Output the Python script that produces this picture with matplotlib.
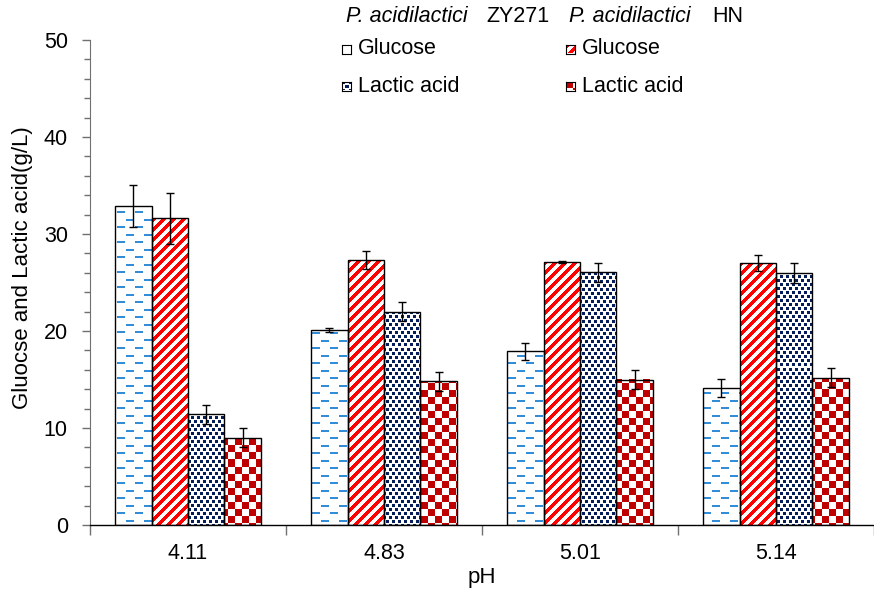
import numpy as np
import matplotlib
matplotlib.use("Agg")
import matplotlib.pyplot as plt

plt.rcParams['font.family'] = ['Liberation Sans', 'DejaVu Sans']

# ---- data ----
ph_labels = ["4.11", "4.83", "5.01", "5.14"]
zy_glucose = [32.9, 20.1, 17.9, 14.1]
zy_glucose_err = [2.2, 0.2, 0.9, 0.95]
hn_glucose = [31.6, 27.3, 27.1, 27.0]
hn_glucose_err = [2.6, 0.9, 0.1, 0.8]
zy_lactic = [11.4, 22.0, 26.05, 26.0]
zy_lactic_err = [1.0, 1.0, 1.0, 1.0]
hn_lactic = [9.0, 14.8, 15.0, 15.2]
hn_lactic_err = [1.0, 1.0, 1.0, 1.0]

W_PX, H_PX = 874, 590
fig = plt.figure(figsize=(W_PX / 100, H_PX / 100), dpi=100, facecolor='white')

# axes placed in pixel terms
ax_left, ax_right, ax_top, ax_bottom = 90, 874, 40, 525
ax = fig.add_axes([ax_left / W_PX, 1 - ax_bottom / H_PX,
                   (ax_right - ax_left) / W_PX, (ax_bottom - ax_top) / H_PX])
AX_W = ax_right - ax_left
AX_H = ax_bottom - ax_top
unit_px = 198.5
xlim = (-0.5, -0.5 + AX_W / unit_px)
ylim = (0, 50)

BLUE = np.array([0.20, 0.55, 0.84])
RED = np.array([1.0, 0.0, 0.0])
NAVY = np.array([0.02, 0.12, 0.36])
DARKRED = np.array([0.75, 0.0, 0.0])


def texture(kind, h, w):
    yy, xx = np.mgrid[0:h, 0:w]
    img = np.ones((h, w, 3))
    if kind == 'dash':
        r = yy % 15
        on = ((r < 2) & (xx % 18 < 8)) | ((r >= 7) & (r < 9) & ((xx + 9) % 18 < 8))
        col = BLUE
    elif kind == 'stripe':
        on = (xx + yy) % 10 < 5
        col = RED
    elif kind == 'dots':
        on = ((yy % 8 < 3) & (xx % 6 < 3)) | (((yy + 4) % 8 < 3) & ((xx + 3) % 6 < 3))
        col = NAVY
    else:
        on = ((xx // 7) + (yy // 7)) % 2 == 0
        col = DARKRED
    img[on] = col
    return img


series = [
    (zy_glucose, zy_glucose_err, 'dash'),
    (hn_glucose, hn_glucose_err, 'stripe'),
    (zy_lactic, zy_lactic_err, 'dots'),
    (hn_lactic, hn_lactic_err, 'check'),
]

x = np.arange(len(ph_labels))
bw = 0.186
for i, (vals, errs, kind) in enumerate(series):
    pos = x + (i - 1.5) * bw
    tex = texture(kind, AX_H, AX_W)
    bars = ax.bar(pos, vals, width=bw, facecolor='none', edgecolor='black',
                  linewidth=1.0, zorder=3)
    for b in bars:
        im = ax.imshow(tex, extent=(xlim[0], xlim[1], ylim[0], ylim[1]),
                       aspect='auto', interpolation='nearest', zorder=2)
        im.set_clip_path(b)
    ax.errorbar(pos, vals, yerr=errs, fmt='none', ecolor='black',
                elinewidth=1.0, capsize=3.2, capthick=1.0, zorder=4)

ax.set_xlim(*xlim)
ax.set_ylim(*ylim)

for s in ['top', 'right']:
    ax.spines[s].set_visible(False)
ax.spines['left'].set_color('#707070')
ax.spines['bottom'].set_color('black')
ax.spines['bottom'].set_linewidth(1.0)

ax.set_yticks(np.arange(0, 51, 10))
ax.set_yticks(np.arange(0, 51, 2), minor=True)
ax.tick_params(axis='y', which='major', direction='out', length=6, width=1,
               color='#707070', labelsize=15.5, pad=10)
ax.tick_params(axis='y', which='minor', direction='out', length=4, width=1,
               color='#707070')

ax.set_xticks(np.arange(-0.5, 3.6, 1.0))
ax.set_xticklabels([])
ax.set_xticks(x, minor=True)
ax.set_xticklabels(ph_labels, minor=True)
ax.tick_params(axis='x', which='major', direction='out', length=7, width=1,
               color='#707070')
ax.tick_params(axis='x', which='minor', length=0, labelsize=15.5, pad=13)

ax.set_ylabel("Gluocse and Lactic acid(g/L)", fontsize=16)
ax.yaxis.set_label_coords(-(ax_left - 33) / AX_W, (ax_bottom - 268) / AX_H)
ax.set_xlabel("pH", fontsize=16, labelpad=2)


# ---- legend (manual, two columns with strain headers) ----
def fx(px):
    return px / W_PX


def fy(py):
    return 1 - py / H_PX


fig.text(fx(346), fy(17), "P. acidilactici", style='italic', fontsize=15.5, va='center')
fig.text(fx(486), fy(17), "ZY271", fontsize=15.5, va='center')
fig.text(fx(569), fy(17), "P. acidilactici", style='italic', fontsize=15.5, va='center')
fig.text(fx(712), fy(17), "HN", fontsize=15.5, va='center')

legend_items = [
    (342, 49, 'dash', "Glucose"),
    (342, 86, 'dots', "Lactic acid"),
    (566, 49, 'stripe', "Glucose"),
    (566, 86, 'check', "Lactic acid"),
]
for sx, sy, kind, label in legend_items:
    sq = 9
    lax = fig.add_axes([fx(sx), fy(sy + sq / 2), sq / W_PX, sq / H_PX])
    lax.imshow(texture(kind, sq, sq), aspect='auto', interpolation='nearest')
    lax.set_xticks([])
    lax.set_yticks([])
    for sp in lax.spines.values():
        sp.set_linewidth(0.8)
        sp.set_color('black')
    fig.text(fx(sx + 16), fy(sy), label, fontsize=15.5, va='center')

fig.savefig("out.png", dpi=100)
